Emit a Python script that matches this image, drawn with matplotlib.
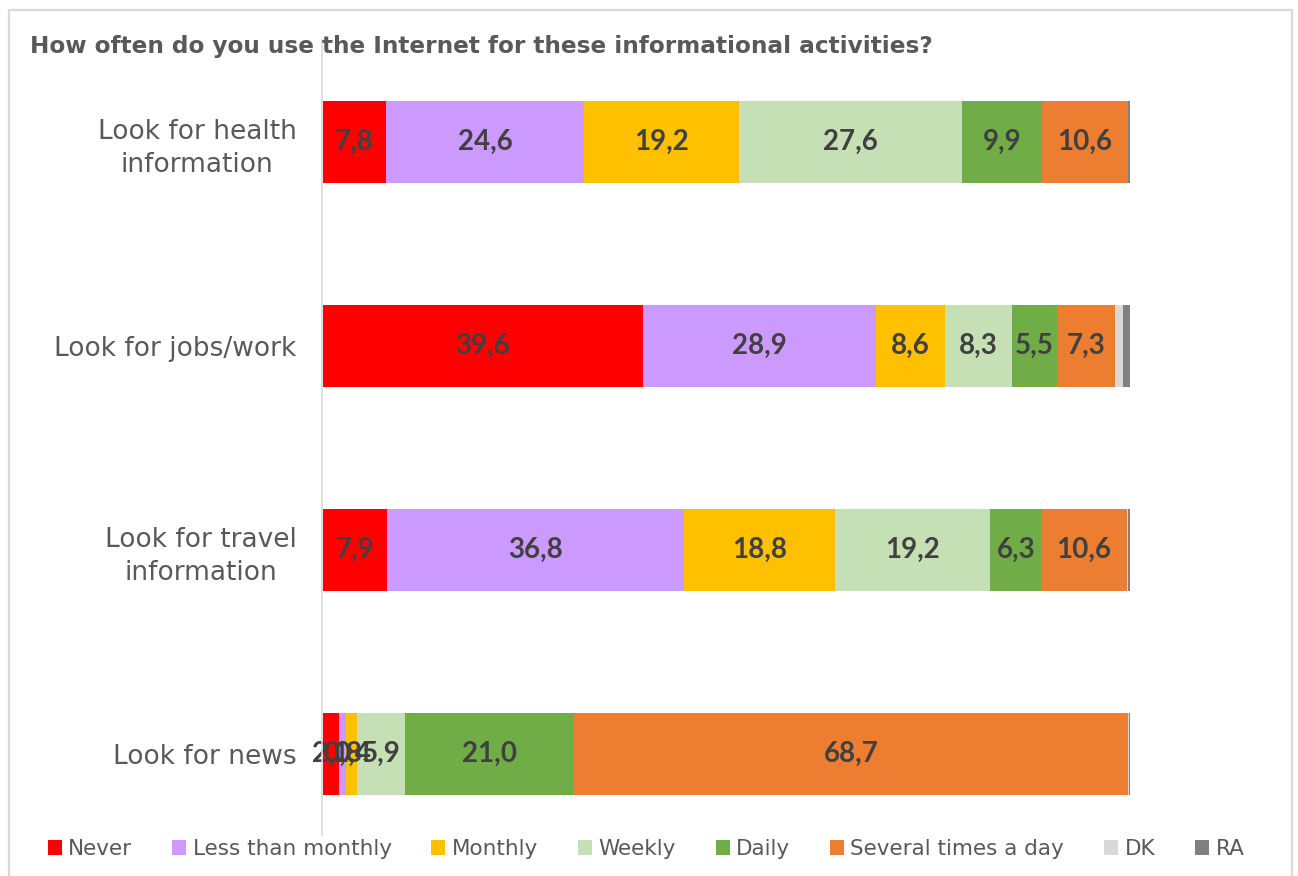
import matplotlib
matplotlib.use("Agg")
import matplotlib.pyplot as plt
from matplotlib.patches import Patch, Rectangle
from matplotlib.lines import Line2D

categories = [
    "Look for health\ninformation",
    "Look for jobs/work",
    "Look for travel\ninformation",
    "Look for news",
]
series_names = ["Never", "Less than monthly", "Monthly", "Weekly", "Daily",
                "Several times a day", "DK", "RA"]
never = [7.8, 39.6, 7.9, 2.0]
less_than_monthly = [24.6, 28.9, 36.8, 0.8]
monthly = [19.2, 8.6, 18.8, 1.4]
weekly = [27.6, 8.3, 19.2, 5.9]
daily = [9.9, 5.5, 6.3, 21.0]
several_a_day = [10.6, 7.3, 10.6, 68.7]
dk = [0.1, 0.9, 0.1, 0.1]
ra = [0.2, 0.9, 0.3, 0.1]
series = [never, less_than_monthly, monthly, weekly, daily, several_a_day, dk, ra]
colors = ["#FF0000", "#CC99FF", "#FFC000", "#C5E0B4", "#70AD47", "#ED7D31",
          "#D9D9D9", "#808080"]
labelled = [True, True, True, True, True, True, False, False]

W, H = 1298, 876
plt.rcParams["font.family"] = ["DejaVu Sans"]
fig = plt.figure(figsize=(W / 100, H / 100), dpi=100)

ax = fig.add_axes([323 / W, 1 - 856 / H, (1130 - 323) / W, (856 - 40) / H])
ypos = list(range(len(categories)))
left = [0.0] * len(categories)
for vals, col, show in zip(series, colors, labelled):
    ax.barh(ypos, vals, left=left, height=0.4, color=col, linewidth=0)
    if show:
        for y, l, v in zip(ypos, left, vals):
            ax.text(l + v / 2, y, f"{v:.1f}".replace(".", ","), ha="center",
                    va="center", fontsize=20, fontweight="bold", color="#404040",
                    family=["Lato", "DejaVu Sans"])
    left = [a + b for a, b in zip(left, vals)]

ax.set_xlim(0, 100)
ax.set_ylim(3.5, -0.5)
ax.set_xticks([])
ax.set_yticks(ypos)
ax.set_yticklabels(categories, fontsize=19, color="#595959")
for t in ax.get_yticklabels():
    t.set_multialignment("center")
    t.set_linespacing(1.35)
ax.tick_params(axis="y", length=0, pad=19)
for s in ax.spines.values():
    s.set_visible(False)

# vertical category axis line
fig.add_artist(Line2D([322 / W, 322 / W], [1 - 40 / H, 1 - 835 / H],
                      transform=fig.transFigure, color="#D9D9D9", linewidth=1.2))
# chart area border
fig.add_artist(Rectangle((9 / W, -0.05), (1292 - 9) / W, 1.05 - 10 / H,
                         transform=fig.transFigure, fill=False,
                         edgecolor="#D9D9D9", linewidth=1.6))

fig.text(30 / W, 1 - 47 / H, "How often do you use the Internet for these informational activities?",
         fontsize=16.7, fontweight="bold", color="#595959", va="center", ha="left")

handles = [Patch(facecolor=c, edgecolor="none") for c in colors]
fig.legend(handles, series_names, loc="center", bbox_to_anchor=(646 / W, 1 - 849 / H),
           ncol=8, frameon=False, fontsize=15.5, labelcolor="#595959",
           handlelength=0.65, handleheight=0.65, handletextpad=0.3,
           columnspacing=1.85)

fig.savefig("out.png", dpi=100)
